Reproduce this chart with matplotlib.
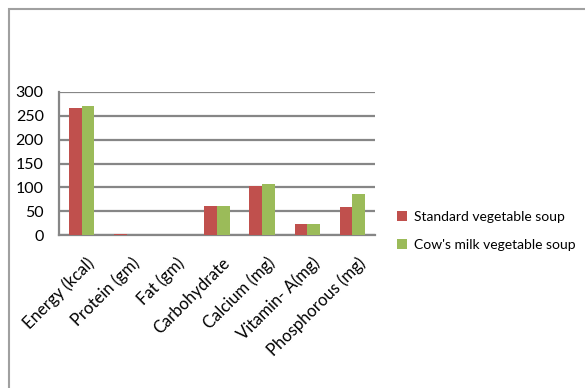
import numpy as np
import matplotlib.pyplot as plt
import matplotlib.transforms as mtransforms
from matplotlib.patches import Rectangle, Patch

plt.rcParams['font.family'] = ['Lato', 'DejaVu Sans']

nutrients = ["Energy (kcal)", "Protein (gm)", "Fat (gm)", "Carbohydrate",
             "Calcium (mg)", "Vitamin- A(mg)", "Phosphorous (mg)"]
standard_soup = [267, 3, 0, 61, 102, 24, 58]
cows_milk_soup = [270, 0, 0, 61, 107, 24, 86]
series_names = ["Standard vegetable soup", "Cow's milk vegetable soup"]
colors = ["#C0504D", "#9BBB59"]
grid_color = "#868686"

fig = plt.figure(figsize=(5.85, 3.88), dpi=100)
ax = fig.add_axes([0.1009, 0.3943, 0.540, 0.3686])

x = np.arange(len(nutrients))
w = 0.28
ax.bar(x - w / 2, standard_soup, width=w, color=colors[0], zorder=3)
ax.bar(x + w / 2, cows_milk_soup, width=w, color=colors[1], zorder=3)

ax.set_xlim(-0.5, len(nutrients) - 0.5)
ax.set_ylim(0, 300)
ax.set_yticks(range(0, 301, 50))
ax.yaxis.grid(True, color=grid_color, linewidth=1.6, zorder=0)
ax.set_axisbelow(True)

for side in ["top", "right"]:
    ax.spines[side].set_visible(False)
for side in ["left", "bottom"]:
    ax.spines[side].set_color(grid_color)
    ax.spines[side].set_linewidth(1.6)

ax.tick_params(axis="both", length=0, colors="black")
ax.tick_params(axis="y", pad=11, labelsize=11.5)
ax.set_xticks(x)
ax.set_xticklabels(nutrients, rotation=45, ha="right", fontsize=12)
ax.tick_params(axis="x", pad=14)

# nudge the slanted category labels so their ends sit under the bars
shift = mtransforms.ScaledTranslation(0.16, 0, fig.dpi_scale_trans)
for lbl in ax.get_xticklabels():
    lbl.set_transform(lbl.get_transform() + shift)

handles = [Patch(facecolor=c, label=n) for c, n in zip(colors, series_names)]
fig.legend(handles=handles, loc="upper left", bbox_to_anchor=(0.658, 0.488),
           frameon=False, fontsize=10, handlelength=0.7, handleheight=0.7,
           handletextpad=0.5, labelspacing=1.15)

# outer chart frame, running past the right and bottom edges
fig.patches.append(Rectangle((9 / 585, -0.1), 1.2, 1 - 9 / 388 + 0.1,
                             transform=fig.transFigure, fill=False,
                             edgecolor="#A0A0A0", linewidth=1.5))

fig.savefig("out.png", dpi=100)
